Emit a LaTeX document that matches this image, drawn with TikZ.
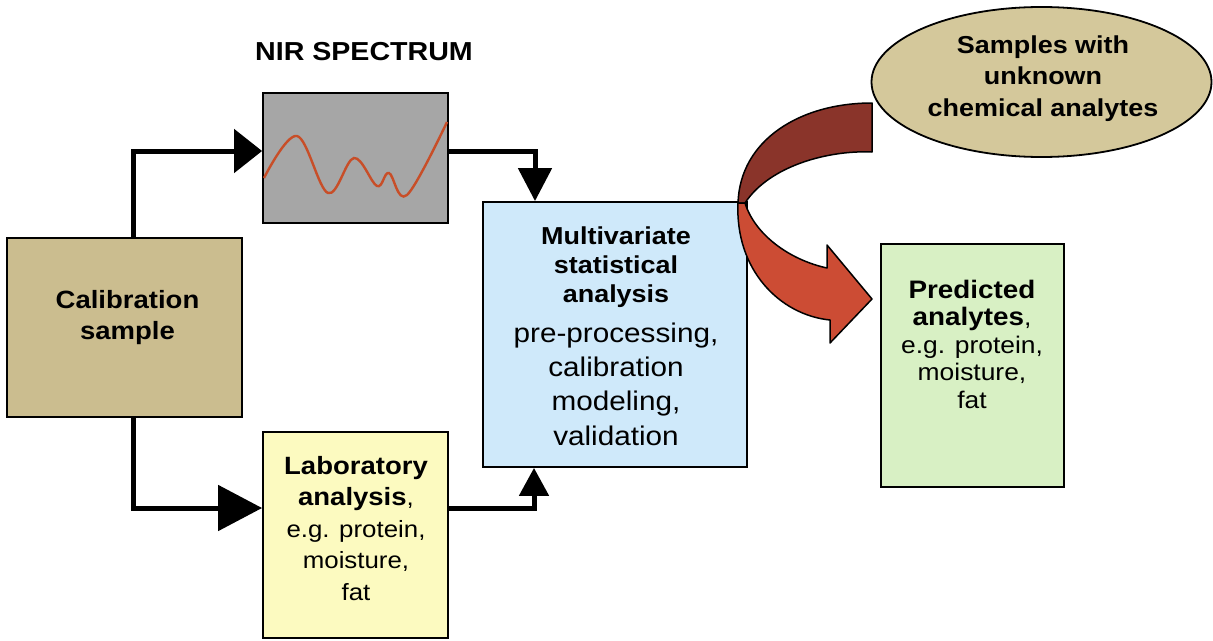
\documentclass[tikz,border=0pt]{standalone}
\usepackage{fontspec}
\newfontfamily\dfont{Liberation Sans}[FakeStretch=1.1]
\usetikzlibrary{arrows.meta,shapes.geometric}
\definecolor{tanfill}{RGB}{203,189,143}
\definecolor{tanell}{RGB}{212,200,155}
\definecolor{nirgray}{RGB}{166,166,166}
\definecolor{multiblue}{RGB}{207,233,250}
\definecolor{labyellow}{RGB}{252,250,192}
\definecolor{predgreen}{RGB}{216,240,196}
\definecolor{ribdark}{RGB}{138,52,42}
\definecolor{riblight}{RGB}{204,76,52}
\definecolor{specred}{RGB}{200,78,40}
\begin{document}
\begin{tikzpicture}[x=1pt,y=-1pt,
  box/.style={draw=black, line width=1.8pt, inner sep=0pt},
  conn/.style={line width=5pt, draw=black},
  txt/.style={align=center, inner sep=0pt, anchor=base, text=black},
  ribbon/.style={draw=black, line width=1.5pt, line join=round},
]
\useasboundingbox (0,0) rectangle (1213,640);

% boxes
\node[box, fill=tanfill, minimum width=235pt, minimum height=179pt] (cal) at (124.5,327.5) {};
\node[box, fill=nirgray, minimum width=185pt, minimum height=130pt] (nir) at (355.5,158) {};
\node[box, fill=multiblue, minimum width=264pt, minimum height=265pt] (multi) at (615,334.5) {};
\node[box, fill=labyellow, minimum width=185pt, minimum height=206pt] (lab) at (355.5,535) {};
\node[box, fill=predgreen, minimum width=183pt, minimum height=243pt] (pred) at (972.5,365.5) {};
\node[box, ellipse, fill=tanell, minimum width=340pt, minimum height=150pt] (unk) at (1041.5,82) {};

% spectrum
\draw[specred, line width=2.4pt] plot[smooth, tension=0.6] coordinates
  {(264,178) (297,136) (328,193) (354,158) (377,186) (389,173) (407,195) (447,122)};

% texts (base anchor = baseline of the last line)
\node[txt, font=\dfont\bfseries\fontsize{26}{30}\selectfont] (nirtitle) at (364,60) {NIR SPECTRUM};
\node[txt, font=\dfont\bfseries\fontsize{25}{31}\selectfont] (caltxt) at (127.5,339) {Calibration\\sample};
\node[txt, font=\dfont\fontsize{24.5}{29}\selectfont] (multitxt) at (616,445)
  {\bfseries Multivariate\\\bfseries statistical\\\bfseries analysis\\[11pt]
   \fontsize{27}{29}\selectfont pre-processing,\\[5.3pt]
   \fontsize{27}{29}\selectfont calibration\\[5.3pt]
   \fontsize{27}{29}\selectfont modeling,\\[5.3pt]
   \fontsize{27}{29}\selectfont validation};
\node[txt, font=\dfont\fontsize{23.5}{31.5}\selectfont] (labtxt) at (356,600)
  {\fontsize{25}{31.5}\selectfont\bfseries Laboratory\\
   {\fontsize{25}{31.5}\selectfont\bfseries analysis},\\e.g. protein,\\moisture,\\fat};
\node[txt, font=\dfont\fontsize{24}{27.5}\selectfont] (predtxt) at (972,408)
  {\fontsize{25.3}{27.5}\selectfont\bfseries Predicted\\
   {\fontsize{25.3}{27.5}\selectfont\bfseries analytes},\\e.g. protein,\\moisture,\\fat};
\node[txt, font=\dfont\bfseries\fontsize{24.5}{31.5}\selectfont] (unktxt) at (1043,116)
  {Samples with\\unknown\\chemical analytes};

% connector bend points
\coordinate (a1) at (133,151);
\coordinate (b1) at (535,151);
\coordinate (c1) at (133,508);
\coordinate (d1) at (534,508);

\draw[conn, -{Triangle[length=28pt,width=43pt]}] (cal.north -| a1) |- (nir.west |- a1);
\draw[conn, -{Triangle[length=33pt,width=33pt]}] (nir.east |- b1) -| (multi.north -| b1);
\draw[conn, -{Triangle[length=44pt,width=45pt]}] (cal.south -| c1) |- (lab.west |- c1);
\draw[conn, -{Triangle[length=28pt,width=29pt]}] (lab.east |- d1) -| (multi.south -| d1);

% curved ribbon arrow
\filldraw[ribbon, fill=ribdark] (872,103) -- (872,152)
  .. controls (830,150) and (770,165) .. (745,203) -- (738,203)
  .. controls (740,140) and (800,103) .. (872,103) -- cycle;
\filldraw[ribbon, fill=riblight] (738,203)
  .. controls (735,270) and (780,315) .. (830,320) -- (830,343) -- (872,299)
  -- (827,245) -- (827,268)
  .. controls (790,260) and (755,235) .. (745,203) -- cycle;
\end{tikzpicture}
\end{document}
